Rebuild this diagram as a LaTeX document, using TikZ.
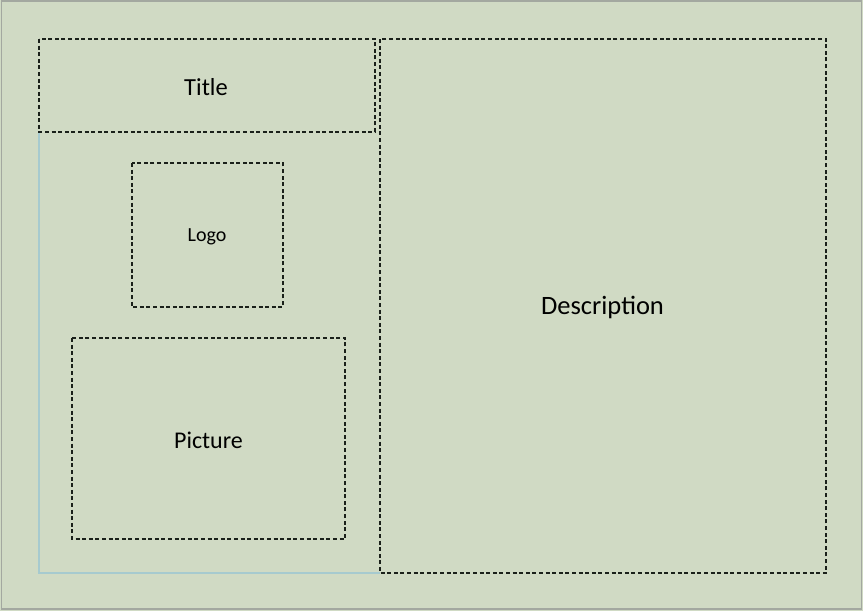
\documentclass[tikz,border=0pt]{standalone}
\usepackage{fontspec}
\setmainfont{Carlito}
\definecolor{bgc}{HTML}{D0DAC4}
\definecolor{edgec}{HTML}{A3A8A0}
\definecolor{guide}{HTML}{A6CACF}
\definecolor{dashc}{HTML}{1A201A}
\tikzset{
  zone/.style={draw=dashc, line width=1.3pt, dash pattern=on 4pt off 2.6pt},
  lbl/.style={inner sep=0pt, text=black}
}
\begin{document}
\begin{tikzpicture}[x=1pt,y=-1pt]
\useasboundingbox (0,0) rectangle (863,611);
\fill[bgc] (0,0) rectangle (863,611);
\draw[edgec, line width=1.5pt] (1.5,1) rectangle (861.5,609);
% guide lines
\coordinate (gtl) at (39,132);
\coordinate (gbl) at (39,573);
\coordinate (gbr) at (380,573);
\draw[guide, line width=1.1pt] (gtl) -- (gbl) -- (gbr);
% zones
\draw[zone] (39,39) rectangle (375,132);
\draw[zone] (380,39) rectangle (826,573);
\draw[zone] (132,163) rectangle (283,307);
\draw[zone] (72,338) rectangle (345,539);
% labels
\node[lbl, font=\fontsize{24.5}{28}\selectfont] (title) at (206,87) {Title};
\node[lbl, font=\fontsize{20}{24}\selectfont] (logo) at (207,237) {Logo};
\node[lbl, font=\fontsize{24}{28}\selectfont] (picture) at (208.5,440) {Picture};
\node[lbl, font=\fontsize{26.5}{30}\selectfont] (desc) at (602.5,307) {Description};
\end{tikzpicture}
\end{document}
